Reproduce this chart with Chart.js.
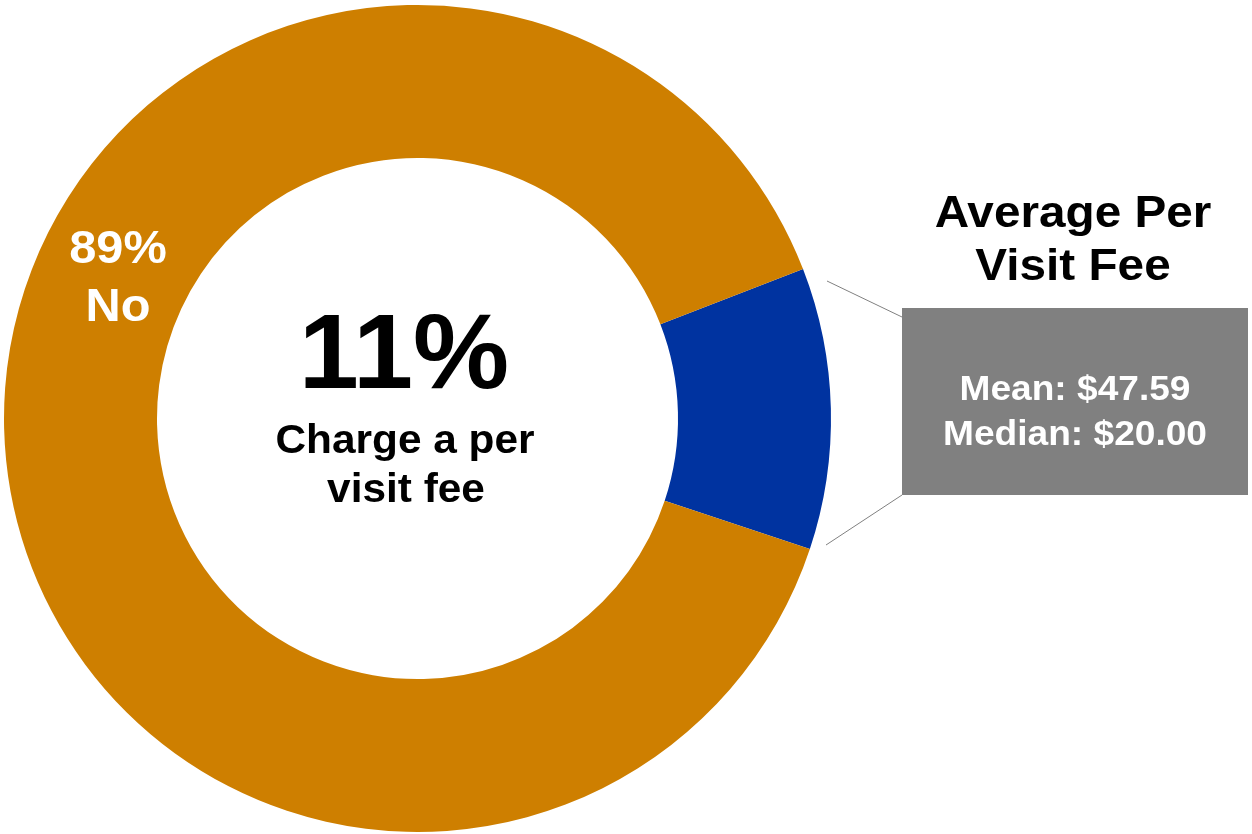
<!DOCTYPE html>
<html>
<head>
<meta charset="utf-8">
<script src="https://cdn.jsdelivr.net/npm/chart.js@4.4.1/dist/chart.umd.min.js"></script>
<style>
  html, body { margin: 0; padding: 0; background: #fff; }
  #wrap { width: 1252px; height: 834px; position: relative; }
</style>
</head>
<body>
<div id="wrap"><canvas id="chart"></canvas></div>
<script>
// Chart values
const categories = ["Yes", "No"];
const shares = [11, 89];
const sliceColors = ["#0033A0", "#CE7F00"];
const centerCaption = ["Charge a per", "visit fee"];
const feeTitle = ["Average Per", "Visit Fee"];
const feeLines = ["Mean: $47.59", "Median: $20.00"];

const FONT = "'Liberation Sans', Arial, sans-serif";

// the source text is a little wider than plain Arial
function wideText(ctx, text, x, y, sx = 1.06) {
  ctx.save();
  ctx.translate(x, y);
  ctx.scale(sx, 1);
  ctx.fillText(text, 0, 0);
  ctx.restore();
}

// Draws the text labels and the callout box
const overlayPlugin = {
  id: "overlay",
  afterDraw(chart) {
    const ctx = chart.ctx;
    ctx.save();
    ctx.textAlign = "center";
    ctx.textBaseline = "alphabetic";

    // center label
    ctx.fillStyle = "#000";
    ctx.font = `bold 106px ${FONT}`;
    wideText(ctx, `${shares[0]}%`, 404, 388, 1.02);
    ctx.font = `bold 40px ${FONT}`;
    wideText(ctx, centerCaption[0], 405, 453);
    wideText(ctx, centerCaption[1], 406, 502);

    // "No" slice label
    ctx.fillStyle = "#fff";
    ctx.font = `bold 46px ${FONT}`;
    wideText(ctx, `${shares[1]}%`, 118, 263);
    wideText(ctx, categories[1], 118, 321);

    // connector lines
    ctx.strokeStyle = "#808080";
    ctx.lineWidth = 1;
    ctx.beginPath();
    ctx.moveTo(827, 281);
    ctx.lineTo(902, 317);
    ctx.moveTo(826, 545);
    ctx.lineTo(902, 495);
    ctx.stroke();

    // callout box
    ctx.fillStyle = "#808080";
    ctx.fillRect(902, 308, 346, 187);

    ctx.fillStyle = "#000";
    ctx.font = `bold 45px ${FONT}`;
    wideText(ctx, feeTitle[0], 1073, 227);
    wideText(ctx, feeTitle[1], 1073, 280);

    ctx.fillStyle = "#fff";
    ctx.font = `bold 35px ${FONT}`;
    wideText(ctx, feeLines[0], 1075, 400);
    wideText(ctx, feeLines[1], 1075, 445);
    ctx.restore();
  },
};

const ctx = document.getElementById("chart").getContext("2d");
new Chart(ctx, {
  type: "doughnut",
  data: {
    labels: categories,
    datasets: [
      {
        data: shares,
        backgroundColor: sliceColors,
        borderWidth: 0,
      },
    ],
  },
  plugins: [overlayPlugin],
  options: {
    responsive: true,
    maintainAspectRatio: false,
    animation: false,
    cutout: "63%",
    rotation: 68.8,
    layout: {
      padding: { left: 4, top: 5, right: 421, bottom: 2 },
    },
    plugins: {
      legend: { display: false },
      tooltip: { enabled: false },
    },
  },
});
</script>
</body>
</html>
